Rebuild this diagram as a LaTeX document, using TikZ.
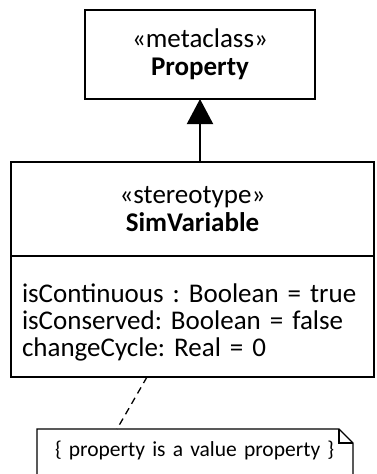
\documentclass[tikz,border=0pt]{standalone}
\usepackage{fontspec}
\setmainfont{Carlito}
\usetikzlibrary{arrows.meta}
\usetikzlibrary{positioning}

\begin{document}
\frenchspacing
\begin{tikzpicture}[
    x=1pt, y=1pt,
    umlbox/.style={
        rectangle,
        draw=black,
        line width=2pt,
        outer sep=0pt,
        inner sep=0pt,
        align=center,
        font=\fontsize{27}{28}\selectfont
    },
    attrbox/.style={
        umlbox,
        align=left,
        text width=341pt,
        inner xsep=11pt,
        minimum height=121pt,
        font=\fontsize{27}{27}\selectfont
    },
    genarrow/.style={
        -{Triangle[length=25pt, width=26pt]},
        line width=2pt
    },
    notelink/.style={
        dash pattern=on 7pt off 5pt,
        line width=1.3pt
    },
    notebox/.style={
        rectangle,
        inner sep=0pt,
        inner xsep=18pt,
        outer sep=0pt,
        text width=280pt,
        align=left,
        minimum height=42pt,
        font=\fontsize{21.5}{24}\selectfont
    }
]

\useasboundingbox (0,0) rectangle (376,-474);
\clip (0,0) rectangle (376,-474);

% Metaclass and stereotype
\node[umlbox, minimum width=230pt, minimum height=89pt] (prop) at (200,-54.5)
    {«metaclass»\\\textbf{Property}};
\node[umlbox, minimum width=363pt, minimum height=94pt] (simhead) at (192.5,-209)
    {«stereotype»\\\textbf{SimVariable}};
\node[attrbox, below=0pt of simhead] (simattr)
    {\rule{0pt}{31pt}isContinuous : Boolean = true\\isConserved: Boolean = false\\changeCycle: Real = 0};

% Constraint note
\node[notebox, below=52pt of simattr.south west, anchor=north west, xshift=26pt] (note)
    {\{ property is a value property \}};

% Extension arrow
\draw[genarrow] (simhead.north -| prop.south) -- (prop.south);

% Note outline and link
\draw[line width=1.3pt] ([yshift=-20pt]note.south west) -- (note.north west)
    -- ([xshift=-14pt]note.north east) -- ([yshift=-14pt]note.north east)
    -- ([yshift=-20pt]note.south east);
\draw[line width=1.3pt] ([xshift=-14pt]note.north east) |- ([yshift=-14pt]note.north east);
\draw[notelink] ([xshift=136pt]simattr.south west) -- ([xshift=80pt]note.north west);

\end{tikzpicture}
\end{document}
